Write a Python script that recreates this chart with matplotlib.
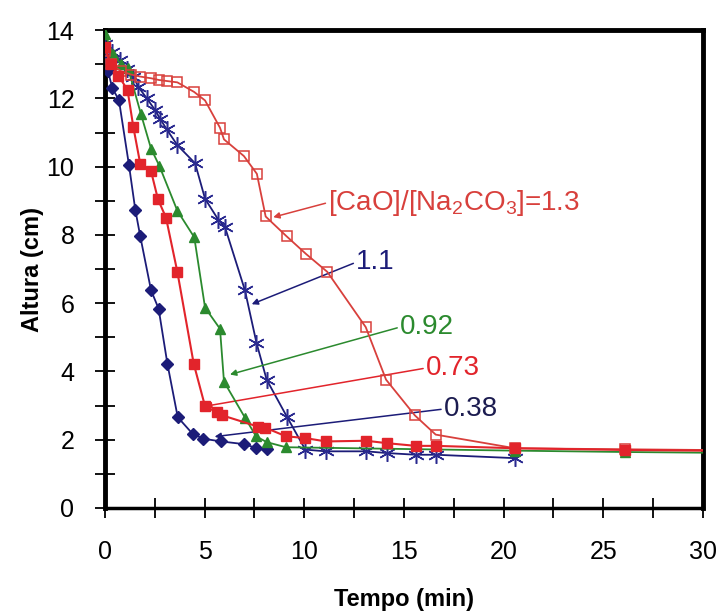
import numpy as np
import matplotlib
matplotlib.use("Agg")
import matplotlib.pyplot as plt
from matplotlib.ticker import MultipleLocator

plt.rcParams['font.family'] = ['Liberation Sans', 'DejaVu Sans']
plt.rcParams['mathtext.default'] = 'regular'

# razao [CaO]/[Na2CO3] = 0.38
t038 = [0, 0.15, 0.37, 0.7, 1.2, 1.52, 1.77, 2.31, 2.69, 3.13, 3.65, 4.4, 4.93, 5.82, 6.99, 7.58, 8.11]
h038 = [13.2, 12.8, 12.3, 11.95, 10.06, 8.74, 7.96, 6.38, 5.84, 4.23, 2.66, 2.17, 2.03, 1.95, 1.87, 1.76, 1.74]

# razao 0.73
t073 = [0, 0.3, 0.67, 1.13, 1.42, 1.77, 2.31, 2.66, 3.06, 3.63, 4.45, 5.02, 5.63, 5.85, 7.7, 8.05,
        9.08, 10.03, 11.08, 13.1, 14.13, 15.59, 16.6, 20.57, 26.09, 30]
h073 = [13.5, 13.0, 12.67, 12.25, 11.17, 10.08, 9.87, 9.04, 8.51, 6.92, 4.23, 2.98, 2.8, 2.72, 2.38, 2.35,
        2.1, 2.05, 1.95, 1.97, 1.9, 1.82, 1.82, 1.75, 1.7, 1.68]

# razao 0.92
t092 = [0, 0.4, 0.8, 1.15, 1.8, 2.31, 2.73, 3.63, 4.48, 5.02, 5.77, 5.97, 7.02, 7.58, 8.11, 9.08,
        20.57, 26.09, 30]
h092 = [13.9, 13.3, 13.0, 12.9, 11.55, 10.53, 10.02, 8.71, 7.93, 5.87, 5.25, 3.7, 2.65, 2.1, 1.93, 1.78,
        1.68, 1.64, 1.62]

# razao 1.1
t11 = [0, 0.33, 0.75, 1.1, 1.42, 1.67, 2.1, 2.51, 2.76, 3.09, 3.63, 4.52, 5.02, 5.68, 6.02, 7.02,
       7.6, 8.11, 9.12, 10.05, 11.08, 13.1, 14.13, 15.59, 16.6, 20.57]
h11 = [13.6, 13.37, 13.13, 12.85, 12.64, 12.34, 12.0, 11.66, 11.41, 11.1, 10.63, 10.1, 9.06, 8.45, 8.23, 6.38,
       4.84, 3.76, 2.68, 1.71, 1.66, 1.66, 1.61, 1.56, 1.56, 1.46]

# razao 1.3
t13 = [0, 0.3, 0.8, 1.3, 1.76, 2.31, 2.7, 3.09, 3.63, 4.47, 5.02, 5.77, 5.97, 6.97, 7.62, 8.06,
       9.11, 10.09, 11.15, 13.08, 14.1, 15.55, 16.59, 20.57, 26.09, 30]
h13 = [13.4, 13.0, 12.8, 12.7, 12.64, 12.59, 12.54, 12.51, 12.47, 12.19, 11.94, 11.14, 10.8, 10.31, 9.79, 8.54,
       7.96, 7.44, 6.92, 5.3, 3.76, 2.71, 2.15, 1.75, 1.72, 1.7]

navy = "#1c1c78"
red = "#e2242b"
red_open = "#d8403c"
green = "#2b8a2e"

fig = plt.figure(figsize=(7.24, 6.15), dpi=100)
ax = fig.add_axes([0.145, 0.174, 0.826, 0.777])

ax.plot(t038, h038, color=navy, lw=1.3, marker="D", ms=6.5, mfc=navy, mec=navy, zorder=3)
ax.plot(t11, h11, color=navy, lw=1.3, marker=(6, 2, 0), ms=12, mec="#2a2a90", mew=1.1, zorder=3)
ax.plot(t092, h092, color=green, lw=1.3, marker="^", ms=7, mfc=green, mec=green,
        markevery=slice(0, -1), zorder=4)
ax.plot(t13, h13, color=red_open, lw=1.3, marker="s", ms=7, mfc="none", mec=red_open, mew=1.1,
        markevery=slice(0, -1), zorder=4)
ax.plot(t073, h073, color=red, lw=1.5, marker="s", ms=7, mfc=red, mec=red,
        markevery=slice(0, -1), zorder=5)

# rotulos com setas
def seta(txt, xy, xytext, cor, tcor):
    ax.annotate(txt, xy=xy, xytext=xytext, color=tcor, fontsize=20, va="center", ha="left",
                arrowprops=dict(arrowstyle="-|>", color=cor, lw=1.1, mutation_scale=9,
                                shrinkA=0, shrinkB=0, relpos=(0, 0.5)))

seta("[CaO]/[Na$_2$CO$_3$]=1.3", (8.44, 8.52), (11.2, 8.95), red_open, red_open)
seta("1.1", (7.36, 5.97), (12.6, 7.2), navy, navy)
seta("0.92", (6.27, 3.91), (14.8, 5.3), green, green)
seta("0.73", (5.02, 2.98), (16.1, 4.1), red, red)
seta("0.38", (5.5, 2.09), (17.0, 2.9), navy, "#1c1c50")

ax.set_xlim(0, 30)
ax.set_ylim(0, 14)
ax.xaxis.set_major_locator(MultipleLocator(5))
ax.xaxis.set_minor_locator(MultipleLocator(2.5))
ax.yaxis.set_major_locator(MultipleLocator(2))
ax.yaxis.set_minor_locator(MultipleLocator(1))
ax.tick_params(which="both", direction="inout", length=14, width=1.3, colors="black")
ax.tick_params(axis="x", labelsize=18, pad=16)
ax.tick_params(axis="y", labelsize=18, pad=15)
for lado in ["left", "right", "top"]:
    ax.spines[lado].set_linewidth(3.5)
ax.spines["bottom"].set_linewidth(2.5)

ax.set_xlabel("Tempo (min)", fontsize=17, fontweight="bold", labelpad=17)
ax.set_ylabel("Altura (cm)", fontsize=17, fontweight="bold", labelpad=2)

fig.savefig("out.png", dpi=100)
